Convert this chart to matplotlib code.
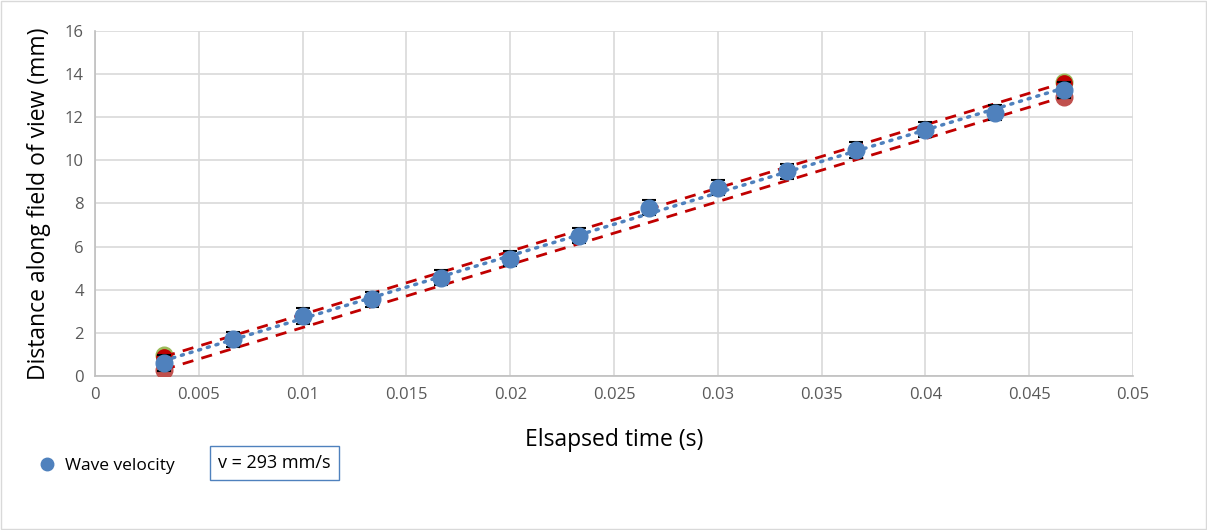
import numpy as np
import matplotlib.pyplot as plt

# elapsed time (s) and measured distance (mm)
time_s = [0.00333, 0.00667, 0.01, 0.01333, 0.01667, 0.02, 0.02333,
          0.02667, 0.03, 0.03333, 0.03667, 0.04, 0.04333, 0.04667]
dist_mm = [0.6, 1.7, 2.78, 3.55, 4.55, 5.43, 6.5,
           7.8, 8.72, 9.5, 10.48, 11.41, 12.2, 13.26]
err_mm = [0.35] * 14

# bounding lines (max / min slope)
bound_t = [0.00333, 0.04667]
upper_mm = [0.9, 13.6]
lower_mm = [0.3, 12.95]
green_mm = [0.95, 13.62]

plt.rcParams['font.family'] = ['Open Sans', 'DejaVu Sans']

fig = plt.figure(figsize=(12.07, 5.30), dpi=100)
ax = fig.add_axes([0.0787, 0.2906, 0.86, 0.651])

# outer chart border
fig.patches.append(plt.Rectangle((0.001, 0.001), 0.998, 0.998, transform=fig.transFigure,
                                 fill=False, edgecolor='#d9d9d9', linewidth=1))

ax.plot(bound_t, green_mm, 'o', color='#9bbb59', markersize=12, zorder=3)
ax.plot(bound_t, upper_mm, 'o', color='#c00000', markersize=11, zorder=3)
ax.plot(bound_t, lower_mm, 'o', color='#c0504d', markersize=12, zorder=3)
ax.plot(bound_t, upper_mm, '--', color='#c00000', linewidth=2, dashes=(4, 3), zorder=4)
ax.plot(bound_t, lower_mm, '--', color='#c00000', linewidth=2, dashes=(4, 3), zorder=4)

ax.errorbar(time_s, dist_mm, yerr=err_mm, fmt='none', ecolor='black',
            elinewidth=1, capsize=5, capthick=1.5, zorder=5)
ax.plot(time_s, dist_mm, 'o', color='#4f81bd', markersize=12, zorder=6,
        label='Wave velocity')

# linear trendline
slope, icpt = np.polyfit(time_s, dist_mm, 1)
tt = np.array([time_s[0], time_s[-1]])
ax.plot(tt, slope * tt + icpt, color='#4f81bd', linewidth=2.5,
        linestyle=(0, (0.6, 2.0)), dash_capstyle='round', zorder=7)

ax.set_xlim(0, 0.05)
ax.set_ylim(0, 16)
ax.set_xticks(np.arange(0, 0.0501, 0.005))
ax.set_xticklabels(['0', '0.005', '0.01', '0.015', '0.02', '0.025', '0.03',
                    '0.035', '0.04', '0.045', '0.05'])
ax.set_yticks(range(0, 17, 2))
ax.grid(True, color='#d9d9d9', linewidth=1.2)
ax.set_axisbelow(True)
for s in ['top', 'right']:
    ax.spines[s].set_visible(False)
for s in ['left', 'bottom']:
    ax.spines[s].set_color('#bfbfbf')
    ax.spines[s].set_linewidth(1.2)
ax.tick_params(length=0, labelsize=12, colors='#595959', pad=8)

ax.set_xlabel('Elsapsed time (s)', fontsize=16.5, color='black', labelpad=18)
ax.set_ylabel('Distance along field of view (mm)', fontsize=16.5, color='black', labelpad=10)

ax.legend(loc='upper left', bbox_to_anchor=(0.012, 0.165), bbox_transform=fig.transFigure,
          frameon=False, fontsize=12.5, handletextpad=0.0, markerscale=0.75)

fig.text(0.181, 0.127, 'v = 293 mm/s', fontsize=13, color='black', va='center',
         bbox=dict(boxstyle='square,pad=0.45', facecolor='white', edgecolor='#4f81bd'))

fig.savefig('out.png', dpi=100)
